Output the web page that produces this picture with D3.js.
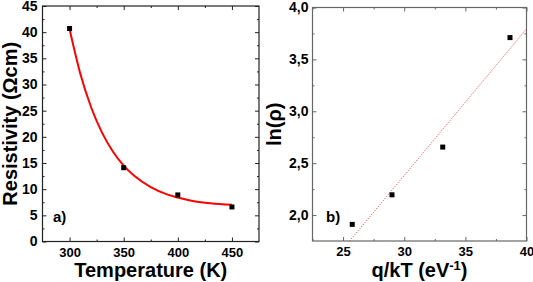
<!DOCTYPE html>
<html>
<head>
<meta charset="utf-8">
<script src="https://cdn.jsdelivr.net/npm/d3@7"></script>
<style>
body { margin: 0; background: #fff; }
text { font-family: "Liberation Sans", Arial, sans-serif; font-weight: bold; fill: #000; }
</style>
</head>
<body>
<svg width="533" height="282"></svg>
<script>
// panel a: resistivity vs temperature
var tempK = [300, 350, 400, 450];
var resistivity = [40.7, 14.1, 8.9, 6.6];
// exponential fit
var fitT = [300, 310, 320, 330, 340, 350, 360, 375, 390, 400, 415, 430, 450];
var fitRho = [40.6, 32.0, 25.6, 20.8, 17.2, 14.5, 12.5, 10.4, 9.0, 8.4, 7.7, 7.3, 7.0];
var tempTicks = [300, 350, 400, 450];
var rhoTicks = [0, 5, 10, 15, 20, 25, 30, 35, 40, 45];

// panel b: ln(rho) vs q/kT
var qkT = [25.75, 29.0, 33.15, 38.65];
var lnRho = [1.91, 2.195, 2.655, 3.71];
var linFitX = [25.53, 40];
var linFitY = [1.75, 3.795];
var qkTTicks = [25, 30, 35, 40];
var lnTicks = [2.0, 2.5, 3.0, 3.5, 4.0];

var svg = d3.select("svg");
var comma = d3.formatLocale({decimal: ",", thousands: ".", grouping: [3], currency: ["", ""]}).format(".1f");

function panel(opt) {
  var x = d3.scaleLinear().domain(opt.xDom).range(opt.xr);
  var y = d3.scaleLinear().domain(opt.yDom).range(opt.yr);
  var g = svg.append("g");
  var axCol = opt.axisColor;

  // minor ticks, all four sides
  var bx = d3.axisBottom(x).tickValues(opt.xMinor).tickSize(-2).tickFormat("");
  var tx = d3.axisTop(x).tickValues(opt.xMinor).tickSize(-2).tickFormat("");
  var ly = d3.axisLeft(y).tickValues(opt.yMinor).tickSize(-2).tickFormat("");
  var ry = d3.axisRight(y).tickValues(opt.yMinor).tickSize(-2).tickFormat("");
  g.append("g").attr("transform", "translate(0," + opt.yr[0] + ")").call(bx);
  g.append("g").attr("transform", "translate(0," + opt.yr[1] + ")").call(tx);
  g.append("g").attr("transform", "translate(" + opt.xr[0] + ",0)").call(ly);
  g.append("g").attr("transform", "translate(" + opt.xr[1] + ",0)").call(ry);

  // major ticks with labels
  var xb = g.append("g").attr("transform", "translate(0," + opt.yr[0] + ")")
    .call(d3.axisBottom(x).tickValues(opt.xTicks).tickSize(-4).tickPadding(6).tickFormat(d3.format("d")));
  xb.selectAll("text").style("font-size", "13px");
  g.append("g").attr("transform", "translate(0," + opt.yr[1] + ")")
    .call(d3.axisTop(x).tickValues(opt.xTicks).tickSize(-4).tickFormat(""));
  var yl = g.append("g").attr("transform", "translate(" + opt.xr[0] + ",0)")
    .call(d3.axisLeft(y).tickValues(opt.yTicks).tickSize(-4).tickPadding(opt.yPad).tickFormat(opt.yFmt));
  yl.selectAll("text").style("font-size", "14px");
  g.append("g").attr("transform", "translate(" + opt.xr[1] + ",0)")
    .call(d3.axisRight(y).tickValues(opt.yTicks).tickSize(-4).tickFormat(""));

  g.selectAll(".domain").remove();
  g.selectAll(".tick line").attr("stroke", axCol).attr("stroke-width", 1);
  g.selectAll(".tick text").attr("fill", "#000").style("font-family", "'Liberation Sans', Arial, sans-serif").style("font-weight", "bold");

  // frame
  g.append("rect")
    .attr("x", opt.xr[0]).attr("y", opt.yr[1])
    .attr("width", opt.xr[1] - opt.xr[0]).attr("height", opt.yr[0] - opt.yr[1])
    .attr("fill", "none").attr("stroke", axCol).attr("stroke-width", 1.2);

  var clipId = "clip" + opt.id;
  svg.append("clipPath").attr("id", clipId).append("rect")
    .attr("x", opt.xr[0]).attr("y", opt.yr[1])
    .attr("width", opt.xr[1] - opt.xr[0]).attr("height", opt.yr[0] - opt.yr[1]);

  return {g: g, x: x, y: y, clip: "url(#" + clipId + ")"};
}

// ---- panel a
var a = panel({
  id: "a", xDom: [275, 475], yDom: [0, 45], xr: [42.5, 259], yr: [241.5, 6],
  xTicks: tempTicks, xMinor: [325, 375, 425],
  yTicks: rhoTicks, yMinor: d3.range(2.5, 45, 5),
  yFmt: d3.format("d"), yPad: 5, axisColor: "#222"
});

a.g.append("path")
  .datum(d3.zip(fitT, fitRho))
  .attr("clip-path", a.clip)
  .attr("fill", "none").attr("stroke", "#ff0000").attr("stroke-width", 2)
  .attr("d", d3.line().x(function(d) { return a.x(d[0]); }).y(function(d) { return a.y(d[1]); }).curve(d3.curveMonotoneX));

a.g.selectAll("rect.pt")
  .data(d3.zip(tempK, resistivity))
  .enter().append("rect").attr("class", "pt")
  .attr("x", function(d) { return a.x(d[0]) - 2.5; })
  .attr("y", function(d) { return a.y(d[1]) - 2.5; })
  .attr("width", 5).attr("height", 5)
  .attr("fill", "#000");

a.g.append("text").attr("x", 53).attr("y", 222).style("font-size", "15px").text("a)");

svg.append("text")
  .attr("text-anchor", "middle")
  .attr("transform", "translate(17," + ((241.5 + 6) / 2) + ") rotate(-90)")
  .style("font-size", "20px")
  .text("Resistivity (Ωcm)");

svg.append("text")
  .attr("text-anchor", "middle")
  .attr("x", (42.5 + 259) / 2).attr("y", 277)
  .style("font-size", "20px")
  .text("Temperature (K)");

// ---- panel b
var b = panel({
  id: "b", xDom: [22.5, 40], yDom: [1.75, 4.0], xr: [312.5, 526.5], yr: [241, 7.5],
  xTicks: qkTTicks, xMinor: [22.5, 27.5, 32.5, 37.5],
  yTicks: lnTicks, yMinor: [2.25, 2.75, 3.25, 3.75],
  yFmt: comma, yPad: 4, axisColor: "#666"
});

b.g.append("path")
  .datum(d3.zip(linFitX, linFitY))
  .attr("clip-path", b.clip)
  .attr("fill", "none").attr("stroke", "#ff3030").attr("stroke-width", 1)
  .attr("stroke-dasharray", "1,1.6")
  .attr("d", d3.line().x(function(d) { return b.x(d[0]); }).y(function(d) { return b.y(d[1]); }));

b.g.selectAll("rect.pt")
  .data(d3.zip(qkT, lnRho))
  .enter().append("rect").attr("class", "pt")
  .attr("x", function(d) { return b.x(d[0]) - 2.5; })
  .attr("y", function(d) { return b.y(d[1]) - 2.5; })
  .attr("width", 5).attr("height", 5)
  .attr("fill", "#000");

b.g.append("text").attr("x", 326).attr("y", 222).style("font-size", "15px").text("b)");

svg.append("text")
  .attr("text-anchor", "middle")
  .attr("transform", "translate(281," + ((241 + 7.5) / 2) + ") rotate(-90)")
  .style("font-size", "20px")
  .text("ln(ρ)");

var xt = svg.append("text")
  .attr("text-anchor", "middle")
  .attr("x", (312.5 + 526.5) / 2).attr("y", 277)
  .style("font-size", "20px");
xt.append("tspan").text("q/kT (eV");
xt.append("tspan").attr("dy", -7).style("font-size", "13px").text("-1");
xt.append("tspan").attr("dy", 7).text(")");
</script>
</body>
</html>
